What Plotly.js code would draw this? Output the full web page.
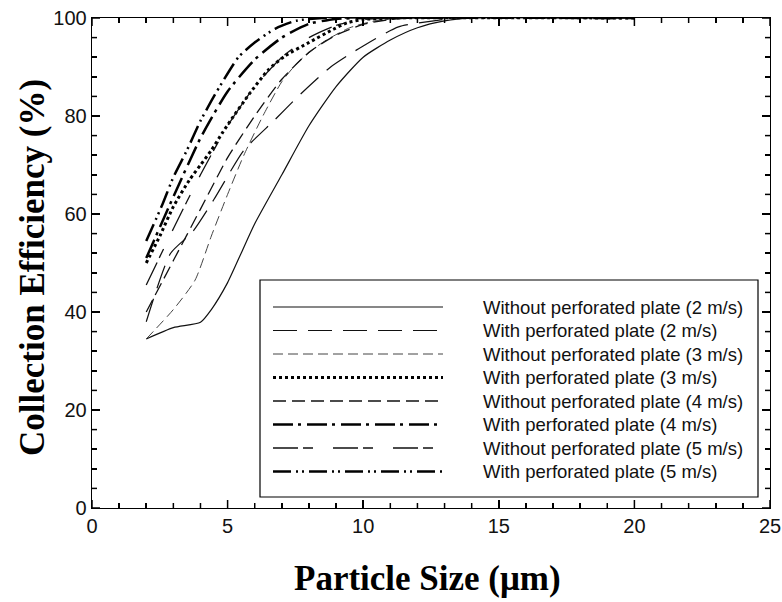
<!DOCTYPE html>
<html>
<head>
<meta charset="utf-8">
<script src="https://cdn.plot.ly/plotly-3.0.1.min.js"></script>
<style>html,body{margin:0;padding:0;background:#fff;}#chart{width:782px;height:602px;}</style>
</head>
<body>
<div id="chart"></div>
<script>
// ---- data ----
const seriesNames = [
  'Without perforated plate (2 m/s)',
  'With perforated plate (2 m/s)',
  'Without perforated plate (3 m/s)',
  'With perforated plate (3 m/s)',
  'Without perforated plate (4 m/s)',
  'With perforated plate (4 m/s)',
  'Without perforated plate (5 m/s)',
  'With perforated plate (5 m/s)'
];
const xWithout2 = [2, 3, 4, 4.4, 5, 5.5, 6, 7, 8, 9, 10, 11, 12, 13, 14, 20];
const yWithout2 = [34.5, 36.8, 37.9, 40.5, 46, 52, 58, 68, 78, 86, 92, 95.5, 98, 99.4, 100, 100];
const xWith2 = [2, 2.9, 3.7, 4.5, 5.6, 6.7, 7.6, 8.8, 10, 11.3, 12.6, 13.5, 20];
const yWith2 = [38, 52, 56.3, 63, 73, 79, 84, 90, 94.3, 98.2, 99.4, 100, 100];
const xWithout3 = [2, 3, 3.8, 4.4, 5, 5.6, 6.3, 7, 7.6, 8.5, 9.5, 10.5, 11.5, 20];
const yWithout3 = [34.5, 40.5, 46.5, 55.5, 64, 72, 80, 87, 91, 95, 98, 99.5, 100, 100];
const xWith3 = [2, 2.5, 3, 3.6, 4, 4.4, 4.8, 5.1, 5.8, 6.5, 7.1, 8, 8.9, 9.4, 10, 11, 20];
const yWith3 = [50, 55.5, 61.5, 67, 70, 73, 76.5, 79, 84.5, 89.4, 92.2, 95, 97.7, 99, 99.7, 100, 100];
const xWithout4 = [2, 3, 4, 5, 6, 7, 8, 9, 10, 11, 12, 20];
const yWithout4 = [40, 50.5, 61, 71.5, 80, 87.5, 93, 96.5, 98.7, 99.7, 100, 100];
const xWith4 = [2, 3, 4, 5, 6, 7, 8, 9, 10, 20];
const yWith4 = [51, 63.5, 75.5, 85, 91.5, 96, 98.8, 99.8, 100, 100];
const xWithout5 = [2, 3, 4, 5, 6, 7, 8, 9, 10, 11, 20];
const yWithout5 = [45.5, 57, 68, 78, 86, 92, 96, 98.5, 99.7, 100, 100];
const xWith5 = [2, 2.6, 3, 3.5, 4, 4.6, 5.4, 6, 6.75, 7.5, 8.5, 20];
const yWith5 = [54.5, 62, 67.5, 73, 79, 85, 92, 95, 97.8, 99.4, 100, 100];

const xData = [xWithout2, xWith2, xWithout3, xWith3, xWithout4, xWith4, xWithout5, xWith5];
const yData = [yWithout2, yWith2, yWithout3, yWith3, yWithout4, yWith4, yWithout5, yWith5];

const xTitle = 'Particle Size (μm)';
const yTitle = 'Collection Efficiency (%)';

// ---- styles ----
const lineStyles = [
  {dash: 'solid', width: 1.2, color: '#111'},
  {dash: '24px,11px', width: 1.2, color: '#111'},
  {dash: '10px,5px', width: 1, color: '#444'},
  {dash: '3px,3px', width: 3, color: '#000'},
  {dash: '13px,6px', width: 1.3, color: '#111'},
  {dash: '20px,5px,3px,6px', width: 2.5, color: '#000'},
  {dash: '25px,5px,10px,20px', width: 1.3, color: '#111'},
  {dash: '18px,5px,2px,4px,2px,5px', width: 2.5, color: '#000'}
];

const traces = seriesNames.map((name, i) => ({
  type: 'scatter', mode: 'lines', name: name,
  x: xData[i], y: yData[i],
  line: {dash: lineStyles[i].dash, width: lineStyles[i].width, color: lineStyles[i].color, shape: 'spline', smoothing: 0.6},
  showlegend: false, hoverinfo: 'skip'
}));

// ---- custom legend (long line samples) in paper coordinates ----
const L = 92, T = 18, W = 678, H = 490;
const px = v => (v - L) / W;
const py = v => (508 - v) / H;
const shapes = [{
  type: 'rect', xref: 'paper', yref: 'paper',
  x0: px(260), x1: px(758), y0: py(497), y1: py(280),
  line: {color: '#000', width: 1.2}, fillcolor: '#fff', layer: 'above'
}];
const annotations = [];
seriesNames.forEach((name, i) => {
  const yc = 307 + i * 23.5;
  shapes.push({
    type: 'line', xref: 'paper', yref: 'paper', layer: 'above',
    x0: px(273), x1: px(443), y0: py(yc), y1: py(yc),
    line: {dash: lineStyles[i].dash, width: lineStyles[i].width, color: lineStyles[i].color}
  });
  annotations.push({
    xref: 'paper', yref: 'paper', x: px(481), y: py(yc),
    xanchor: 'left', yanchor: 'middle', showarrow: false, text: name,
    font: {family: 'Liberation Sans, Arial, sans-serif', size: 18.5, color: '#111'}
  });
});
const titleFont = {family: 'Liberation Serif, Times New Roman, serif', size: 35, weight: 'bold', color: '#000'};
annotations.push({xref: 'paper', yref: 'paper', x: px(427), y: py(578), xanchor: 'center', yanchor: 'middle',
  showarrow: false, text: xTitle, font: titleFont});
annotations.push({xref: 'paper', yref: 'paper', x: px(32), y: py(268), xanchor: 'center', yanchor: 'middle',
  showarrow: false, text: yTitle, textangle: -90, font: titleFont});

// ---- inward tick marks on all four sides (axis-referenced, pixel lengths) ----
for (let v = 0; v <= 25; v += 1) {
  const len = (v % 5 === 0) ? 8 : 5;
  [[0, len], [1, -len]].forEach(([anchor, l]) => shapes.push({
    type: 'line', xref: 'x', yref: 'paper', ysizemode: 'pixel', yanchor: anchor,
    x0: v, x1: v, y0: 0, y1: l, layer: 'above', line: {color: '#000', width: 1.5}
  }));
}
for (let v = 0; v <= 100; v += 4) {
  const len = (v % 20 === 0) ? 8 : 5;
  [[0, len], [1, -len]].forEach(([anchor, l]) => shapes.push({
    type: 'line', xref: 'paper', yref: 'y', xsizemode: 'pixel', xanchor: anchor,
    y0: v, y1: v, x0: 0, x1: l, layer: 'above', line: {color: '#000', width: 1.5}
  }));
}

const axisCommon = {
  showline: true, linecolor: '#000', linewidth: 1.3, mirror: 'allticks',
  ticks: 'inside', ticklen: 8, tickwidth: 1.5, tickcolor: '#000',
  showgrid: false, zeroline: false,
  tickfont: {family: 'Liberation Sans, Arial, sans-serif', size: 20, color: '#111'}
};

const layout = {
  width: 782, height: 602,
  margin: {l: L, r: 782 - L - W, t: T, b: 602 - T - H},
  paper_bgcolor: '#fff', plot_bgcolor: '#fff',
  showlegend: false,
  xaxis: Object.assign({}, axisCommon, {
    range: [0, 25], dtick: 5, tick0: 0,
    minor: {dtick: 1, ticks: 'inside', ticklen: 5, tickwidth: 1.5, tickcolor: '#000'}
  }),
  yaxis: Object.assign({}, axisCommon, {
    range: [0, 100], dtick: 20, tick0: 0,
    minor: {dtick: 4, ticks: 'inside', ticklen: 5, tickwidth: 1.5, tickcolor: '#000'}
  }),
  shapes: shapes,
  annotations: annotations
};

Plotly.newPlot('chart', traces, layout, {staticPlot: true, displayModeBar: false});
</script>
</body>
</html>
